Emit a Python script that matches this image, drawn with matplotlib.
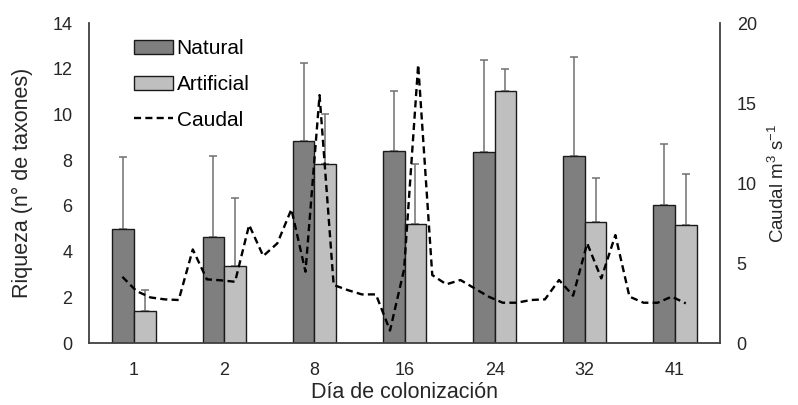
import matplotlib
matplotlib.use("Agg")
import matplotlib.pyplot as plt
import numpy as np

plt.rcParams['font.family'] = ['Liberation Sans', 'DejaVu Sans']
plt.rcParams['mathtext.fontset'] = 'custom'
plt.rcParams['mathtext.rm'] = 'Liberation Sans'
plt.rcParams['mathtext.it'] = 'Liberation Sans'

# data
dias_col = ['1', '2', '8', '16', '24', '32', '41']
natural = [5.0, 4.62, 8.84, 8.41, 8.34, 8.19, 6.04]
natural_sup = [8.15, 8.19, 12.24, 11.04, 12.38, 12.5, 8.7]
artificial = [1.4, 3.38, 7.83, 5.19, 11.04, 5.31, 5.16]
artificial_sup = [2.32, 6.33, 10.0, 7.83, 12.0, 7.2, 7.38]

dias = np.arange(1, 42)
caudal = [4.14, 3.25, 2.85, 2.73, 2.69, 5.85, 3.98, 3.92, 3.83, 7.38,
          5.44, 6.23, 8.36, 4.46, 15.5, 3.63, 3.31, 3.04, 3.04, 0.78,
          4.6, 17.4, 4.25, 3.67, 3.94, 3.42, 2.9, 2.52, 2.52, 2.69,
          2.73, 3.94, 2.96, 6.23, 4.04, 6.75, 2.9, 2.52, 2.52, 2.9, 2.48]

txt = '#262626'
spine = '#404040'

fig = plt.figure(figsize=(7.98, 4.05), dpi=100)
ax = fig.add_axes([0.1115, 0.153, 0.7908, 0.79])

x = np.arange(len(dias_col))
w = 0.24
err_nat = np.array(natural_sup) - np.array(natural)
err_art = np.array(artificial_sup) - np.array(artificial)

b1 = ax.bar(x - w / 2, natural, w, color='#7f7f7f', edgecolor='#1a1a1a', lw=1, label='Natural', zorder=2)
b2 = ax.bar(x + w / 2, artificial, w, color='#bfbfbf', edgecolor='#1a1a1a', lw=1, label='Artificial', zorder=2)
ax.errorbar(x - w / 2, natural, yerr=[np.zeros(7), err_nat], fmt='none',
            ecolor='#707070', elinewidth=1.1, capsize=3, capthick=1.1, zorder=1)
ax.errorbar(x + w / 2, artificial, yerr=[np.zeros(7), err_art], fmt='none',
            ecolor='#707070', elinewidth=1.1, capsize=3, capthick=1.1, zorder=1)

ax.set_xlim(-0.5, 6.5)
ax.set_ylim(0, 14)
ax.set_yticks(np.arange(0, 15, 2))
ax.set_xticks(x)
ax.set_xticklabels(dias_col)
ax.tick_params(length=0, labelsize=13, colors=txt)
ax.tick_params(axis='y', pad=12)
ax.tick_params(axis='x', pad=14)
ax.set_xlabel('Día de colonización', fontsize=15.5, color=txt, labelpad=2)
ax.set_ylabel('Riqueza (n° de taxones)', fontsize=15.5, color=txt, labelpad=14)
ax.spines['top'].set_visible(False)
ax.spines['right'].set_visible(False)
for s in ['left', 'bottom']:
    ax.spines[s].set_color(spine)
    ax.spines[s].set_linewidth(1.3)

# secondary axis for flow
ax2 = ax.twinx()
ax2.set_ylim(0, 20)
ax2.set_yticks(np.arange(0, 21, 5))
ax2.tick_params(length=0, labelsize=13, colors=txt, pad=12)
ax2.set_ylabel(r'Caudal m$^\mathrm{3}$ s$^\mathrm{-1}$', fontsize=13.5, color=txt, labelpad=8)
for s in ['top', 'left', 'bottom']:
    ax2.spines[s].set_visible(False)
ax2.spines['right'].set_color(spine)
ax2.spines['right'].set_linewidth(1.3)

ax3 = ax2.twiny()
ax3.plot(dias, caudal, color='black', lw=1.7, dashes=(3, 1.8), label='Caudal')
ax3.set_xlim(-1.37, 43.43)
ax3.set_xticks([])
for s in ax3.spines.values():
    s.set_visible(False)

handles = [b1, b2, ax3.get_lines()[0]]
ax.legend(handles, ['Natural', 'Artificial', 'Caudal'], loc='upper left',
          bbox_to_anchor=(0.058, 0.975), frameon=False, fontsize=15,
          handlelength=1.9, handleheight=0.7, handletextpad=0.15,
          labelspacing=0.8, borderaxespad=0)

fig.savefig('out.png', dpi=100)
